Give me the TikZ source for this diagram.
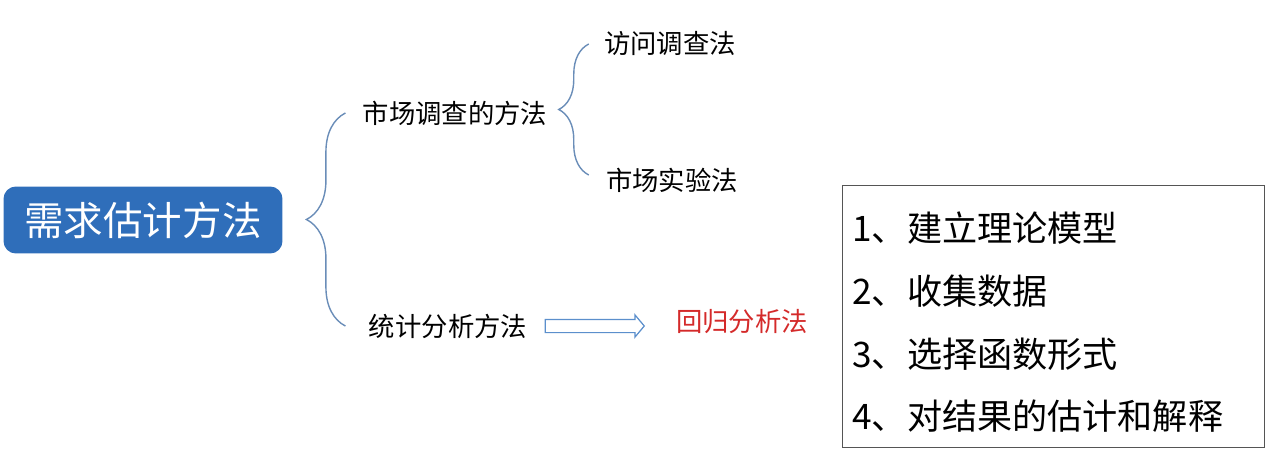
\documentclass[tikz,border=0pt]{standalone}
\usepackage{fontspec}
\newfontfamily\zh{Noto Sans CJK SC}
\usetikzlibrary{arrows.meta,positioning,shapes.arrows,decorations.pathreplacing,calc}
\definecolor{cazul}{HTML}{2F6EBA}
\definecolor{cllave}{HTML}{6A8DB8}
\definecolor{cflecha}{HTML}{5B8FCC}
\definecolor{crojo}{HTML}{D42A2A}
\definecolor{cmarco}{HTML}{555555}
\tikzset{
  raiz/.style={fill=cazul,text=white,rounded corners=7pt,inner sep=0pt,
               minimum width=5.58cm,minimum height=1.34cm,
               font=\zh\fontsize{22.5pt}{26pt}\selectfont},
  hoja/.style={inner sep=0pt,font=\zh\fontsize{15pt}{18pt}\selectfont},
  hojar/.style={hoja,text=crojo},
  llave/.style={draw=cllave,line width=0.8pt,decorate,
                decoration={brace,amplitude=#1}},
  flecha/.style={single arrow,draw=cflecha,fill=white,line width=0.7pt,
                 inner xsep=0pt,inner ysep=0.12cm,minimum height=1.98cm,
                 single arrow head extend=0.09cm,single arrow tip angle=100},
  marco/.style={draw=cmarco,line width=0.8pt,minimum width=8.44cm,
                minimum height=5.24cm,anchor=north west,inner sep=0pt},
  paso/.style={anchor=west,inner sep=0pt,font=\zh\fontsize{20pt}{24pt}\selectfont},
}

\begin{document}
\begin{tikzpicture}[x=0.02cm,y=-0.02cm]
\useasboundingbox (0,0) rectangle (1274,456);

\node[raiz] (xq) at (143,220) {需求估计方法};

\node[hoja] (sc) at (455,113) {市场调查的方法};
\node[hoja] (tj) at (448,326) {统计分析方法};
\node[hoja] (fw) at (670,44) {访问调查法};
\node[hoja] (sy) at (672,180) {市场实验法};
\node[hojar] (hg) at (742,322) {回归分析法};

\node[flecha] (jt) at (592,326) {};

\node[marco] (mx) at (842,185) {};
\node[paso] (p1) at (852,228) {1、建立理论模型};
\node[paso] (p2) at (852,291) {2、收集数据};
\node[paso] (p3) at (852,354) {3、选择函数形式};
\node[paso] (p4) at (852,416) {4、对结果的估计和解释};

\coordinate (lla) at ([xshift=-0.34cm]sc.west);
\coordinate (llb) at ([xshift=-0.3cm]fw.west);
\draw[llave=0.78cm] (lla |- tj) -- (lla);
\draw[llave=0.6cm] ([yshift=0.1cm]llb |- sy) -- (llb);

\end{tikzpicture}
\end{document}
